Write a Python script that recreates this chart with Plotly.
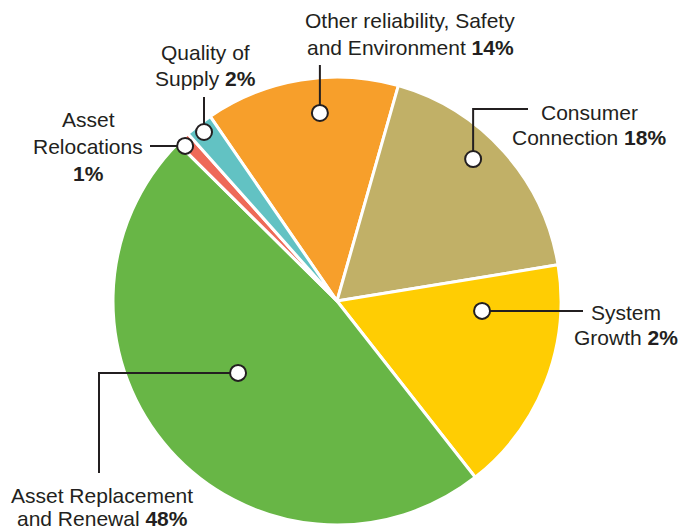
import math
import plotly.graph_objects as go

# Capital expenditure split by category (per cent)
categories = [
    "Other reliability, Safety and Environment",
    "Consumer Connection",
    "System Growth",
    "Asset Replacement and Renewal",
    "Asset Relocations",
    "Quality of Supply",
]
shares = [14, 18, 17, 48, 1, 2]
# percentage text printed beside each category
pct_text = ["14%", "18%", "2%", "48%", "1%", "2%"]
# category name split over lines (the percentage follows the last line)
name_lines = [
    ["Other reliability, Safety", "and Environment"],
    ["Consumer", "Connection"],
    ["System", "Growth"],
    ["Asset Replacement", "and Renewal"],
    ["Asset", "Relocations"],
    ["Quality of", "Supply"],
]
colors = ["#F79F2B", "#C1B067", "#FFCD03", "#68B646", "#EE6A58", "#62C2C3"]

W, H = 694, 526
CX, CY, R = 337, 301, 224
INK = "#231F20"
FONT = "Liberation Sans"

fig = go.Figure()

fig.add_trace(go.Pie(
    labels=categories,
    values=shares,
    sort=False,
    direction="clockwise",
    rotation=-34.5,
    marker=dict(colors=colors, line=dict(color="white", width=3)),
    textinfo="none",
    hoverinfo="label+percent",
    showlegend=False,
    domain=dict(x=[(CX - R) / W, (CX + R) / W],
                y=[1 - (CY + R) / H, 1 - (CY - R) / H]),
))

# callout anchors: (bearing from 12 o'clock in degrees, fraction of radius)
anchors = [(-5.2, 0.843), (43.8, 0.878), (93.9, 0.649),
           (234.0, 0.546), (315.6, 0.969), (321.8, 0.960)]


def anchor_xy(bearing, frac):
    a = math.radians(bearing)
    return CX + frac * R * math.sin(a), CY - frac * R * math.cos(a)


# leader routes from each anchor (pixel waypoints, y downward)
routes = [
    [("v", 65)],
    [("v", 109), ("h", 528)],
    [("h", 583)],
    [("h", 99), ("v", 473)],
    [("h", 150)],
    [("v", 97)],
]

shapes = []
pts = [anchor_xy(*a) for a in anchors]
for (x0, y0), route in zip(pts, routes):
    xs, ys = [x0], [y0]
    for kind, val in route:
        if kind == "v":
            xs.append(xs[-1]); ys.append(val)
        else:
            xs.append(val); ys.append(ys[-1])
    path = "M " + " L ".join(f"{x:.2f},{y:.2f}" for x, y in zip(xs, ys))
    shapes.append(dict(type="path", path=path, xref="x", yref="y",
                       layer="above", line=dict(color=INK, width=2)))

MR = 8  # callout dot radius
for x0, y0 in pts:
    shapes.append(dict(type="circle", xref="x", yref="y", layer="above",
                       x0=x0 - MR, x1=x0 + MR, y0=y0 - MR, y1=y0 + MR,
                       fillcolor="white", line=dict(color=INK, width=2)))

# label blocks: centre x and y of first line, line step
label_pos = [(410, 20, 27), (589, 112, 25), (626, 312, 25),
             (102, 495, 23), (88, 119, 27), (205, 52, 26)]

annotations = []
for i, (lx, ly, step) in enumerate(label_pos):
    lines = list(name_lines[i])
    if categories[i] == "Asset Relocations":
        lines = lines + ["<b>" + pct_text[i] + "</b>"]
    else:
        lines[-1] = lines[-1] + " <b>" + pct_text[i] + "</b>"
    for k, t in enumerate(lines):
        annotations.append(dict(
            x=lx, y=ly + k * step, xref="x", yref="y", text=t,
            showarrow=False, xanchor="center", yanchor="middle",
            font=dict(family=FONT, size=21, color=INK)))

fig.update_layout(
    width=W, height=H,
    margin=dict(l=0, r=0, t=0, b=0),
    paper_bgcolor="white", plot_bgcolor="rgba(0,0,0,0)",
    xaxis=dict(range=[0, W], visible=False, fixedrange=True),
    yaxis=dict(range=[H, 0], visible=False, fixedrange=True),
    annotations=annotations,
    shapes=shapes,
)

fig.write_html("out.html")
